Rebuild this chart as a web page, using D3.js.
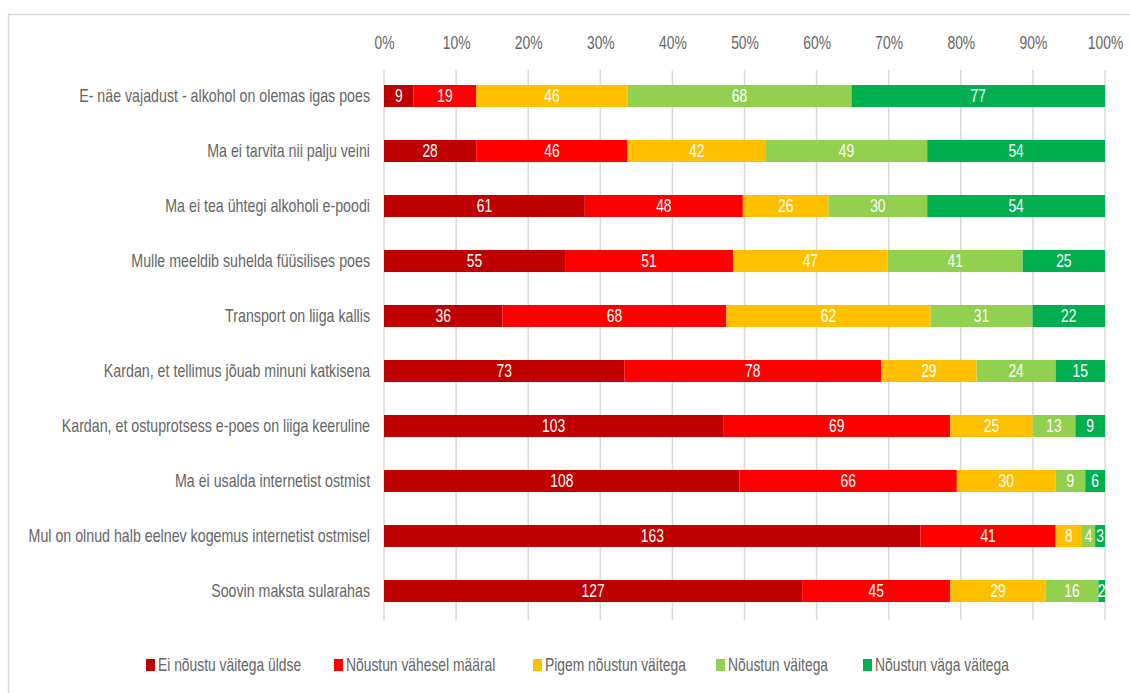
<!DOCTYPE html>
<html>
<head>
<meta charset="utf-8">
<script src="https://cdn.jsdelivr.net/npm/d3@7"></script>
<style>
  html, body { margin: 0; padding: 0; background: #fff; }
  svg text { font-family: "Liberation Sans", "DejaVu Sans", sans-serif; }
  /* narrow, tall lettering: squeeze glyphs horizontally around their anchor */
  svg text.sx { transform-box: fill-box; }
  svg text.sx-end { transform-origin: right center; transform: scaleX(0.79); }
  svg text.sx-mid { transform-origin: center center; transform: scaleX(0.77); }
  svg text.sx-start { transform-origin: left center; transform: scaleX(0.77); }
</style>
</head>
<body>
<svg id="chart" width="1130" height="693"></svg>
<script>
const categories = [
  "E- näe vajadust - alkohol on olemas igas poes",
  "Ma ei tarvita nii palju veini",
  "Ma ei tea ühtegi alkoholi e-poodi",
  "Mulle meeldib suhelda füüsilises poes",
  "Transport on liiga kallis",
  "Kardan, et tellimus jõuab minuni katkisena",
  "Kardan, et ostuprotsess e-poes on liiga keeruline",
  "Ma ei usalda internetist ostmist",
  "Mul on olnud halb eelnev kogemus internetist ostmisel",
  "Soovin maksta sularahas"
];
const seriesNames = [
  "Ei nõustu väitega üldse",
  "Nõustun vähesel määral",
  "Pigem nõustun väitega",
  "Nõustun väitega",
  "Nõustun väga väitega"
];
const eiNoustu      = [9, 28, 61, 55, 36, 73, 103, 108, 163, 127];
const vaheselMaaral = [19, 46, 48, 51, 68, 78, 69, 66, 41, 45];
const pigemNoustun  = [46, 42, 26, 47, 62, 29, 25, 30, 8, 29];
const noustun       = [68, 49, 30, 41, 31, 24, 13, 9, 4, 16];
const vagaNoustun   = [77, 54, 54, 25, 22, 15, 9, 6, 3, 2];
const tickLabels = ["0%", "10%", "20%", "30%", "40%", "50%", "60%", "70%", "80%", "90%", "100%"];
const colors = ["#C00000", "#FF0000", "#FFC000", "#92D050", "#00B050"];

const seriesValues = [eiNoustu, vaheselMaaral, pigemNoustun, noustun, vagaNoustun];
const rows = categories.map((c, i) => {
  const r = { category: c };
  seriesNames.forEach((s, j) => { r[s] = seriesValues[j][i]; });
  return r;
});

const FS = 18;
const svg = d3.select("#chart");

// chart area frame
svg.append("rect")
  .attr("x", 8.5).attr("y", 14.5)
  .attr("width", 1140).attr("height", 700)
  .attr("fill", "none").attr("stroke", "#d9d9d9").attr("stroke-width", 1.5);

const margin = { left: 384, right: 1105, top: 70, bottom: 620 };
const x = d3.scaleLinear().domain([0, 1]).range([margin.left, margin.right]);
const y = d3.scaleBand().domain(categories)
  .range([68.5, 618.5]).paddingInner(0.6).paddingOuter(0.3);

// vertical gridlines
svg.append("g").selectAll("line")
  .data(d3.range(0, 1.0001, 0.1))
  .join("line")
  .attr("x1", d => x(d)).attr("x2", d => x(d))
  .attr("y1", margin.top).attr("y2", margin.bottom)
  .attr("stroke", "#d9d9d9").attr("stroke-width", 1.5);

// top percentage axis
const xAxis = d3.axisTop(x).tickValues(d3.range(0, 1.0001, 0.1))
  .tickFormat((d, i) => tickLabels[i]).tickSize(0).tickPadding(0);
const gx = svg.append("g").attr("transform", "translate(0,49)").call(xAxis);
gx.select(".domain").remove();
gx.selectAll("text").attr("fill", "#666").attr("font-size", FS)
  .attr("class", "sx sx-mid");

// category labels
const yAxis = d3.axisLeft(y).tickSize(0).tickPadding(14);
const gy = svg.append("g").attr("transform", `translate(${margin.left},0)`).call(yAxis);
gy.select(".domain").remove();
gy.selectAll("text").attr("fill", "#666").attr("font-size", FS)
  .attr("dy", "0.35em")
  .attr("class", "sx sx-end");

// stacked shares
const stack = d3.stack().keys(seriesNames).offset(d3.stackOffsetExpand);
const stacked = stack(rows);

const layers = svg.append("g").selectAll("g")
  .data(stacked).join("g")
  .attr("fill", (d, i) => colors[i]);

layers.selectAll("rect")
  .data(d => d)
  .join("rect")
  .attr("x", d => x(d[0]))
  .attr("width", d => x(d[1]) - x(d[0]))
  .attr("y", d => y(d.data.category))
  .attr("height", y.bandwidth());

const labels = svg.append("g").selectAll("g")
  .data(stacked).join("g");
labels.selectAll("text")
  .data(d => d.map(p => ({ v: p.data[d.key], x0: p[0], x1: p[1], cat: p.data.category })))
  .join("text")
  .attr("class", "sx sx-mid")
  .attr("x", d => (x(d.x0) + x(d.x1)) / 2)
  .attr("y", d => y(d.cat) + y.bandwidth() / 2)
  .attr("dy", "0.35em")
  .attr("text-anchor", "middle")
  .attr("fill", "#fff")
  .attr("font-size", FS)
  .text(d => d.v);

// legend
const legendX = [146, 334, 533, 716, 863];
const legend = svg.append("g").selectAll("g")
  .data(seriesNames).join("g")
  .attr("transform", (d, i) => `translate(${legendX[i]},665)`);
legend.append("rect")
  .attr("x", 0).attr("y", -6).attr("width", 9).attr("height", 12)
  .attr("fill", (d, i) => colors[i]);
legend.append("text")
  .attr("class", "sx sx-start")
  .attr("x", 12).attr("y", 0).attr("dy", "0.35em")
  .attr("fill", "#666").attr("font-size", FS)
  .text(d => d);
</script>
</body>
</html>
